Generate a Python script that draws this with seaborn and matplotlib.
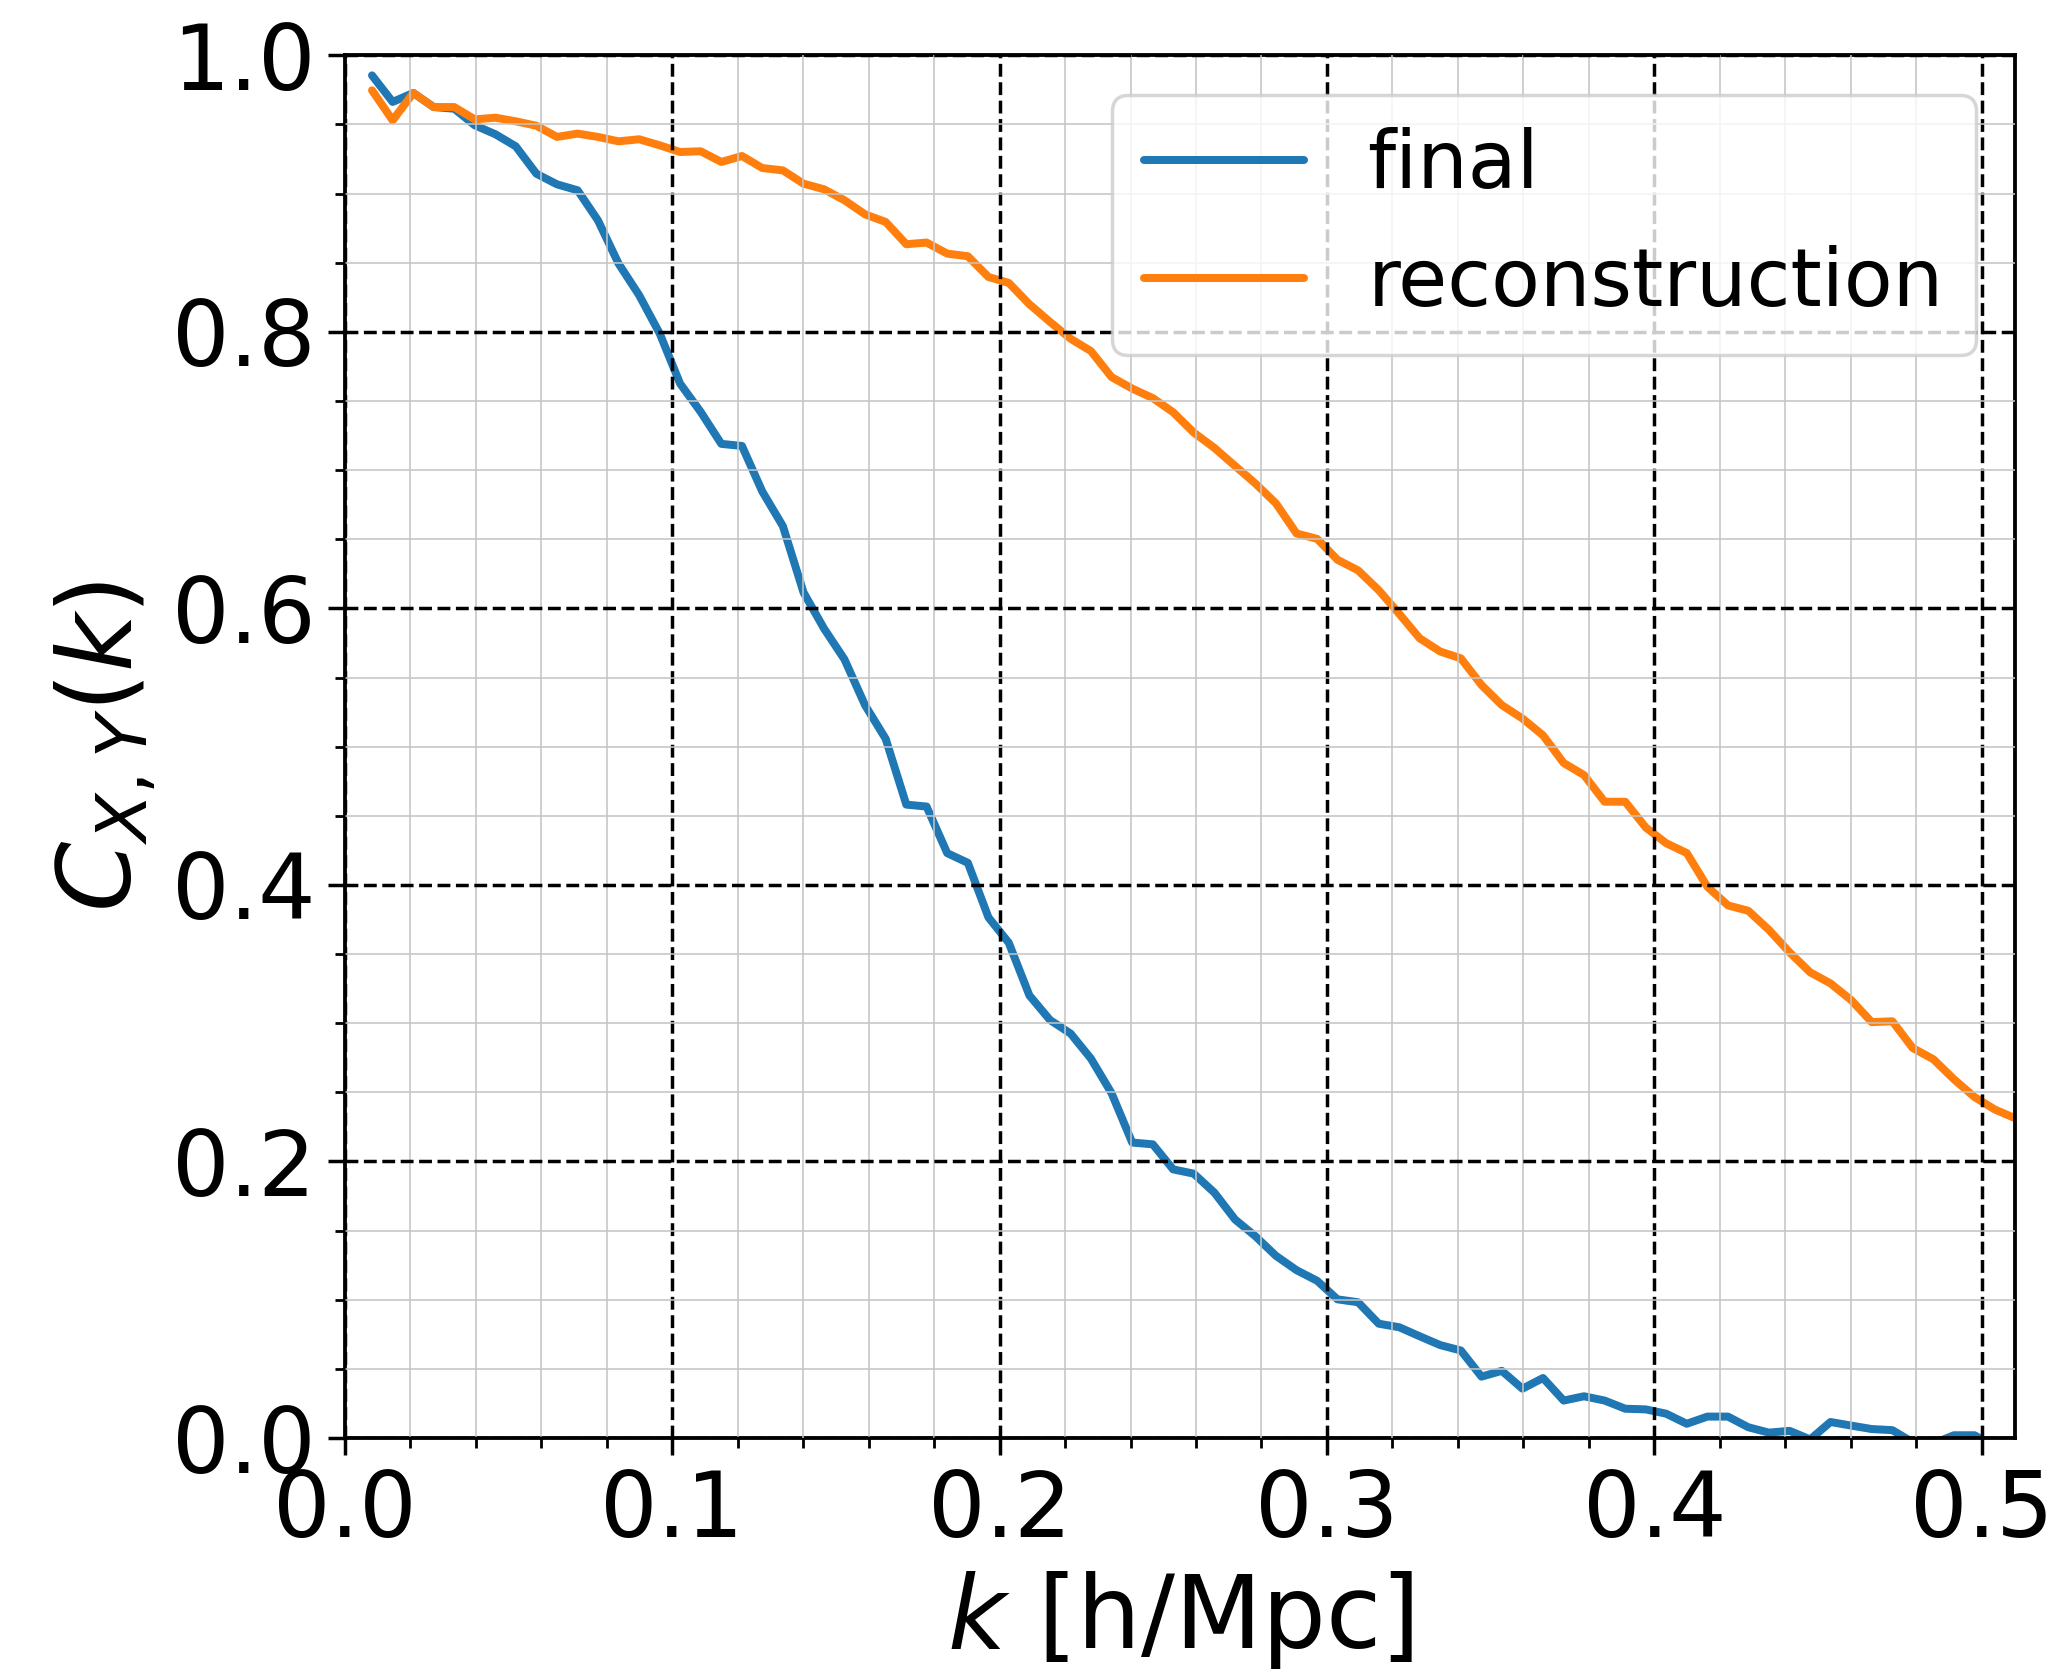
import matplotlib
matplotlib.use("Agg")
import matplotlib.pyplot as plt
from matplotlib.ticker import MultipleLocator
import seaborn as sns
import pandas as pd

k = [0.0083, 0.0146, 0.0209, 0.0271, 0.0334, 0.0397, 0.0460, 0.0522, 0.0585, 0.0648,
     0.0711, 0.0773, 0.0836, 0.0899, 0.0962, 0.1024, 0.1087, 0.1150, 0.1213, 0.1275,
     0.1338, 0.1401, 0.1464, 0.1526, 0.1589, 0.1652, 0.1715, 0.1777, 0.1840, 0.1903,
     0.1966, 0.2028, 0.2091, 0.2154, 0.2217, 0.2279, 0.2342, 0.2405, 0.2468, 0.2530,
     0.2593, 0.2656, 0.2719, 0.2781, 0.2844, 0.2907, 0.2970, 0.3032, 0.3095, 0.3158,
     0.3221, 0.3283, 0.3346, 0.3409, 0.3472, 0.3534, 0.3597, 0.3660, 0.3723, 0.3785,
     0.3848, 0.3911, 0.3974, 0.4036, 0.4099, 0.4162, 0.4225, 0.4287, 0.4350, 0.4413,
     0.4476, 0.4538, 0.4601, 0.4664, 0.4727, 0.4789, 0.4852, 0.4915, 0.4978, 0.5040,
     0.5103]

c_final = [0.9855, 0.9663, 0.9728, 0.9626, 0.9614, 0.9494, 0.9429, 0.9342, 0.9144, 0.9067,
           0.9024, 0.8807, 0.8494, 0.8265, 0.7987, 0.7626, 0.7421, 0.7190, 0.7175, 0.6846,
           0.6595, 0.6116, 0.5853, 0.5632, 0.5300, 0.5057, 0.4581, 0.4567, 0.4230, 0.4160,
           0.3765, 0.3582, 0.3201, 0.3023, 0.2925, 0.2744, 0.2494, 0.2137, 0.2124, 0.1943,
           0.1912, 0.1775, 0.1581, 0.1460, 0.1318, 0.1214, 0.1137, 0.1003, 0.0982, 0.0827,
           0.0801, 0.0736, 0.0672, 0.0633, 0.0444, 0.0486, 0.0357, 0.0434, 0.0271, 0.0302,
           0.0271, 0.0212, 0.0207, 0.0176, 0.0103, 0.0155, 0.0155, 0.0078, 0.0039, 0.0052,
           -0.0010, 0.0116, 0.0090, 0.0065, 0.0057, -0.0030, -0.0040, 0.0020, 0.0020, -0.0060,
           -0.0080]

c_recon = [0.9747, 0.9530, 0.9728, 0.9626, 0.9626, 0.9537, 0.9549, 0.9523, 0.9491, 0.9410,
           0.9434, 0.9410, 0.9378, 0.9393, 0.9349, 0.9301, 0.9306, 0.9229, 0.9272, 0.9185,
           0.9168, 0.9072, 0.9031, 0.8952, 0.8850, 0.8795, 0.8634, 0.8646, 0.8566, 0.8547,
           0.8397, 0.8354, 0.8200, 0.8072, 0.7950, 0.7861, 0.7673, 0.7590, 0.7521, 0.7419,
           0.7272, 0.7161, 0.7031, 0.6904, 0.6760, 0.6542, 0.6503, 0.6352, 0.6275, 0.6132,
           0.5960, 0.5784, 0.5688, 0.5639, 0.5446, 0.5301, 0.5204, 0.5082, 0.4882, 0.4795,
           0.4602, 0.4602, 0.4415, 0.4302, 0.4231, 0.3987, 0.3852, 0.3813, 0.3675, 0.3513,
           0.3368, 0.3288, 0.3168, 0.3008, 0.3014, 0.2821, 0.2740, 0.2595, 0.2466, 0.2376,
           0.2312]

series_names = ["final", "reconstruction"]
colors = ["#1f77b4", "#ff7f0e"]
x_ticks = [0.0, 0.1, 0.2, 0.3, 0.4, 0.5]
y_ticks = [0.0, 0.2, 0.4, 0.6, 0.8, 1.0]

df = pd.DataFrame({
    "k": k + k,
    "C": c_final + c_recon,
    "series": [series_names[0]] * len(k) + [series_names[1]] * len(k),
})

sns.set_style("ticks")
plt.rcParams["font.family"] = ["DejaVu Sans"]
plt.rcParams["mathtext.fontset"] = "dejavusans"
plt.rcParams["text.color"] = "black"
plt.rcParams["axes.labelcolor"] = "black"

fig = plt.figure(figsize=(8.26, 6.708), dpi=250)
ax = fig.add_axes([0.167, 0.1425, 0.809, 0.8245])

sns.lineplot(data=df, x="k", y="C", hue="series", hue_order=series_names,
             palette=colors, linewidth=2.3, ax=ax, sort=False, estimator=None)

ax.set_xlim(0, k[-1])
ax.set_ylim(0, 1)
ax.set_xticks(x_ticks)
ax.set_yticks(y_ticks)
ax.xaxis.set_minor_locator(MultipleLocator(0.02))
ax.yaxis.set_minor_locator(MultipleLocator(0.05))

ax.grid(which="major", linestyle="--", color="black", linewidth=1.0)
ax.grid(which="minor", linestyle="-", color="#c4c4c4", linewidth=0.45)
ax.set_axisbelow(False)

for s in ax.spines.values():
    s.set_linewidth(1.1)
    s.set_color("black")
    s.set_visible(True)

ax.tick_params(which="major", labelsize=26, length=5, width=1.0, direction="out",
               color="black", labelcolor="black")
ax.tick_params(which="minor", length=3, width=0.8, direction="out", color="black")

ax.set_xlabel(r"$k$ [h/Mpc]", fontsize=29, color="black")
ax.set_ylabel(r"$C_{X,Y}(k)$", fontsize=29, color="black")

handles, labels = ax.get_legend_handles_labels()
leg = ax.legend(handles, labels, loc="upper right", fontsize=23, frameon=True,
                framealpha=0.8, fancybox=True, edgecolor="#cccccc")
for t in leg.get_texts():
    t.set_color("black")
for h in leg.get_lines():
    h.set_linewidth(2.3)

fig.savefig("out.png", dpi=250)
